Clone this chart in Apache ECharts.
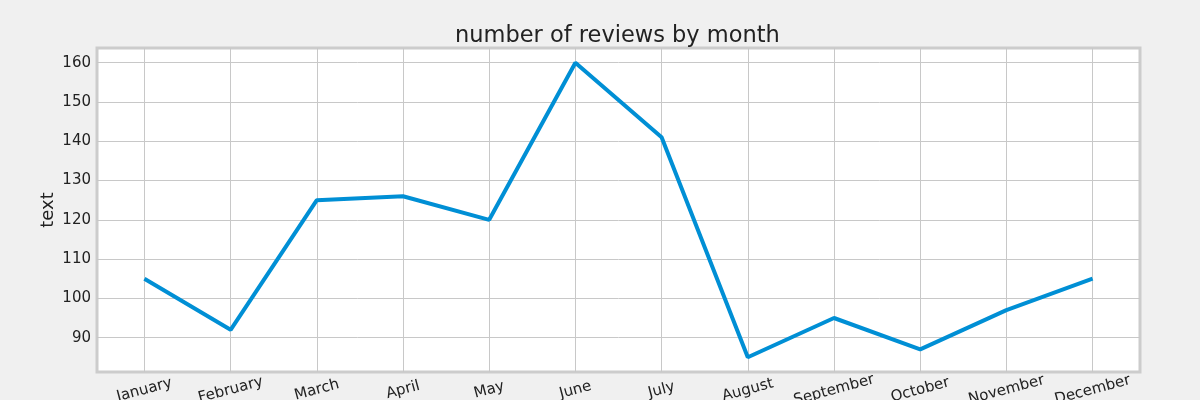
<!DOCTYPE html>
<html>
<head>
<meta charset="utf-8">
<script src="https://cdn.jsdelivr.net/npm/echarts@6/dist/echarts.min.js"></script>
<style>
  html, body { margin: 0; padding: 0; background: #f0f0f0; }
  #chart { width: 1200px; height: 400px; }
</style>
</head>
<body>
<div id="chart"></div>
<script>
// month names on the x axis
const months = ['January', 'February', 'March', 'April', 'May', 'June',
  'July', 'August', 'September', 'October', 'November', 'December']
// reviews per month
const reviews = [105, 92, 125, 126, 120, 160, 141, 85, 95, 87, 97, 105]
const xTicks = [0, 1, 2, 3, 4, 5, 6, 7, 8, 9, 10, 11]
const yTicks = [90, 100, 110, 120, 130, 140, 150, 160]

const font = 'DejaVu Sans'
const myChart = echarts.init(document.getElementById('chart'))

myChart.setOption({
  backgroundColor: '#f0f0f0',
  animation: false,
  title: {
    text: 'number of reviews by month',
    left: 450,
    top: 20,
    textStyle: { fontFamily: font, fontSize: 22.5, fontWeight: 'normal', color: '#222222' },
  },
  grid: {
    left: 97,
    right: 60,
    top: 48,
    bottom: 28,
    outerBoundsMode: 'none',
    containLabel: false,
    show: true,
    backgroundColor: '#ffffff',
    borderColor: '#cccccc',
    borderWidth: 3,
  },
  xAxis: {
    type: 'value',
    min: -0.55,
    max: 11.55,
    axisLine: { show: false },
    axisTick: { show: false, customValues: xTicks },
    splitLine: { show: true, lineStyle: { color: '#c8c8c8', width: 1 } },
    axisLabel: {
      customValues: xTicks,
      formatter: (v) => months[Math.round(v)],
      rotate: 15,
      align: 'center',
      margin: 18,
      fontFamily: font,
      fontSize: 15,
      color: '#222222',
    },
  },
  yAxis: {
    type: 'value',
    min: 81.25,
    max: 163.75,
    name: 'text',
    nameLocation: 'middle',
    nameGap: 40,
    nameMoveOverlap: false,
    nameTextStyle: { fontFamily: font, fontSize: 18, color: '#222222' },
    axisLine: { show: false },
    axisTick: { show: false, customValues: yTicks },
    splitLine: { show: true, lineStyle: { color: '#c8c8c8', width: 1 } },
    axisLabel: {
      customValues: yTicks,
      margin: 6,
      fontFamily: font,
      fontSize: 15,
      color: '#222222',
    },
  },
  series: [
    {
      type: 'line',
      data: reviews.map((v, i) => [xTicks[i], v]),
      symbol: 'none',
      lineStyle: { color: '#008fd5', width: 4 },
    },
  ],
})
</script>
</body>
</html>
